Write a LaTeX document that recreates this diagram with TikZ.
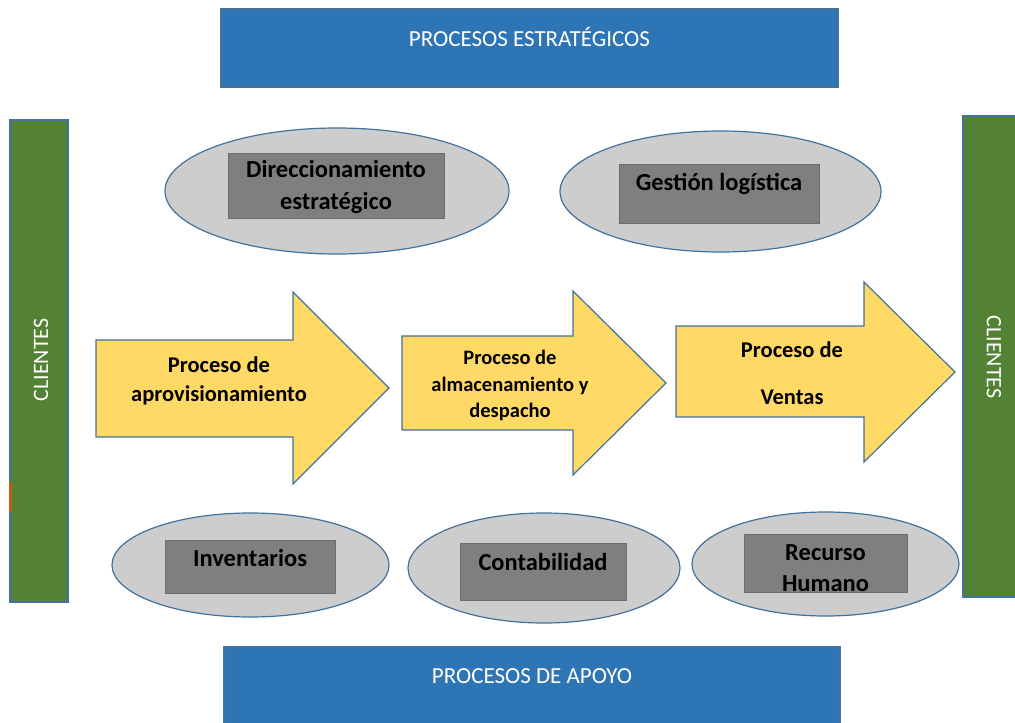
\documentclass[tikz,border=0pt]{standalone}
\usepackage{fontspec}
\setmainfont{Carlito}
\usetikzlibrary{shapes.geometric}

\definecolor{procblue}{HTML}{2E75B6}
\definecolor{edgeblue}{HTML}{41719C}
\definecolor{clientgreen}{HTML}{548235}
\definecolor{markorange}{HTML}{C55A11}
\definecolor{ovalgray}{HTML}{CDCDCD}
\definecolor{boxgray}{HTML}{7F7F7F}
\definecolor{flowgold}{HTML}{FFD966}

\tikzset{
  every picture/.style={line width=1.2pt},
  banner/.style={draw=edgeblue, fill=procblue, inner sep=0pt},
  bannertext/.style={text=white, font=\fontsize{23}{27}\selectfont},
  clientbar/.style={draw=edgeblue, fill=clientgreen, inner sep=0pt, minimum width=58pt},
  clienttext/.style={text=white, font=\fontsize{22}{26}\selectfont},
  oval/.style={draw=edgeblue, fill=ovalgray, ellipse, inner sep=0pt},
  graybox/.style={fill=boxgray, draw=boxgray!85!black, line width=0.6pt, inner sep=0pt},
  boxtext/.style={font=\bfseries\fontsize{24.5}{32}\selectfont, align=center},
  flow/.style={draw=edgeblue, fill=flowgold, line join=miter},
  flowtext/.style={font=\bfseries\fontsize{22.5}{29}\selectfont, align=center},
}

\begin{document}
\begin{tikzpicture}[x=1pt, y=-1pt]
  \useasboundingbox (0,0) rectangle (1015,723);

  % banners top and bottom
  \node[banner, minimum width=617pt, minimum height=78pt] (estrat) at (529.5,48) {};
  \node[bannertext] (estratlbl) at (529.5,37) {PROCESOS ESTRATÉGICOS};
  \node[banner, minimum width=616pt, minimum height=84pt] (apoyo) at (532,689) {};
  \node[bannertext] (apoyolbl) at (532,676) {PROCESOS DE APOYO};

  % customers on both sides
  \node[clientbar, minimum height=482pt] (cliizq) at (39,361) {};
  \node[clienttext, rotate=90] (cliizqlbl) at (41,360) {CLIENTES};
  \fill[markorange] (9,482) rectangle (12,512);
  \node[clientbar, minimum height=481pt] (clider) at (992,356.5) {};
  \node[clienttext, rotate=-90] (cliderlbl) at (994,357) {CLIENTES};

  % strategic processes
  \node[oval, minimum width=344pt, minimum height=126pt] (dir) at (337,191) {};
  \node[graybox, minimum width=216pt, minimum height=65pt] (dirbox) at (336,186) {};
  \node[boxtext] (dirlbl) at (336,187) {Direccionamiento\\estratégico};

  \node[oval, minimum width=321pt, minimum height=121pt] (log) at (720.5,191.5) {};
  \node[graybox, minimum width=200pt, minimum height=59pt] (logbox) at (719,193.5) {};
  \node[boxtext] (loglbl) at (719,184) {Gestión logística};

  % main flow
  \draw[flow] (96,340) -- (293,340) -- (293,292) -- (389,388) -- (293,484)
    -- (293,437) -- (96,437) -- cycle;
  \node[flowtext] (aprov) at (219,381) {Proceso de\\aprovisionamiento};

  \draw[flow] (402,336) -- (573,336) -- (573,291) -- (666,383) -- (573,475)
    -- (573,430) -- (402,430) -- cycle;
  \node[flowtext, font=\bfseries\fontsize{20.5}{26.5}\selectfont] (almac) at (510,385.5)
    {Proceso de\\almacenamiento y\\despacho};

  \draw[flow] (676,326) -- (864,326) -- (864,282) -- (955,372) -- (864,462)
    -- (864,417) -- (676,417) -- cycle;
  \node[flowtext, font=\bfseries\fontsize{22.5}{47}\selectfont] (ventas) at (792,373.5)
    {Proceso de\\Ventas};

  % support processes
  \node[oval, minimum width=277pt, minimum height=104pt] (inv) at (250.5,565) {};
  \node[graybox, minimum width=170pt, minimum height=53pt] (invbox) at (250,566.5) {};
  \node[boxtext] (invlbl) at (250,558) {Inventarios};

  \node[oval, minimum width=272pt, minimum height=110pt] (cont) at (544,568) {};
  \node[graybox, minimum width=166pt, minimum height=57pt] (contbox) at (543,571.5) {};
  \node[boxtext] (contlbl) at (543,562) {Contabilidad};

  \node[oval, minimum width=267pt, minimum height=104pt] (rrhh) at (825.5,564) {};
  \node[graybox, minimum width=163pt, minimum height=58pt] (rrhhbox) at (825.5,563) {};
  \node[boxtext, font=\bfseries\fontsize{24.5}{31}\selectfont] (rrhhlbl) at (825.5,568.5)
    {Recurso\\Humano};
\end{tikzpicture}
\end{document}
